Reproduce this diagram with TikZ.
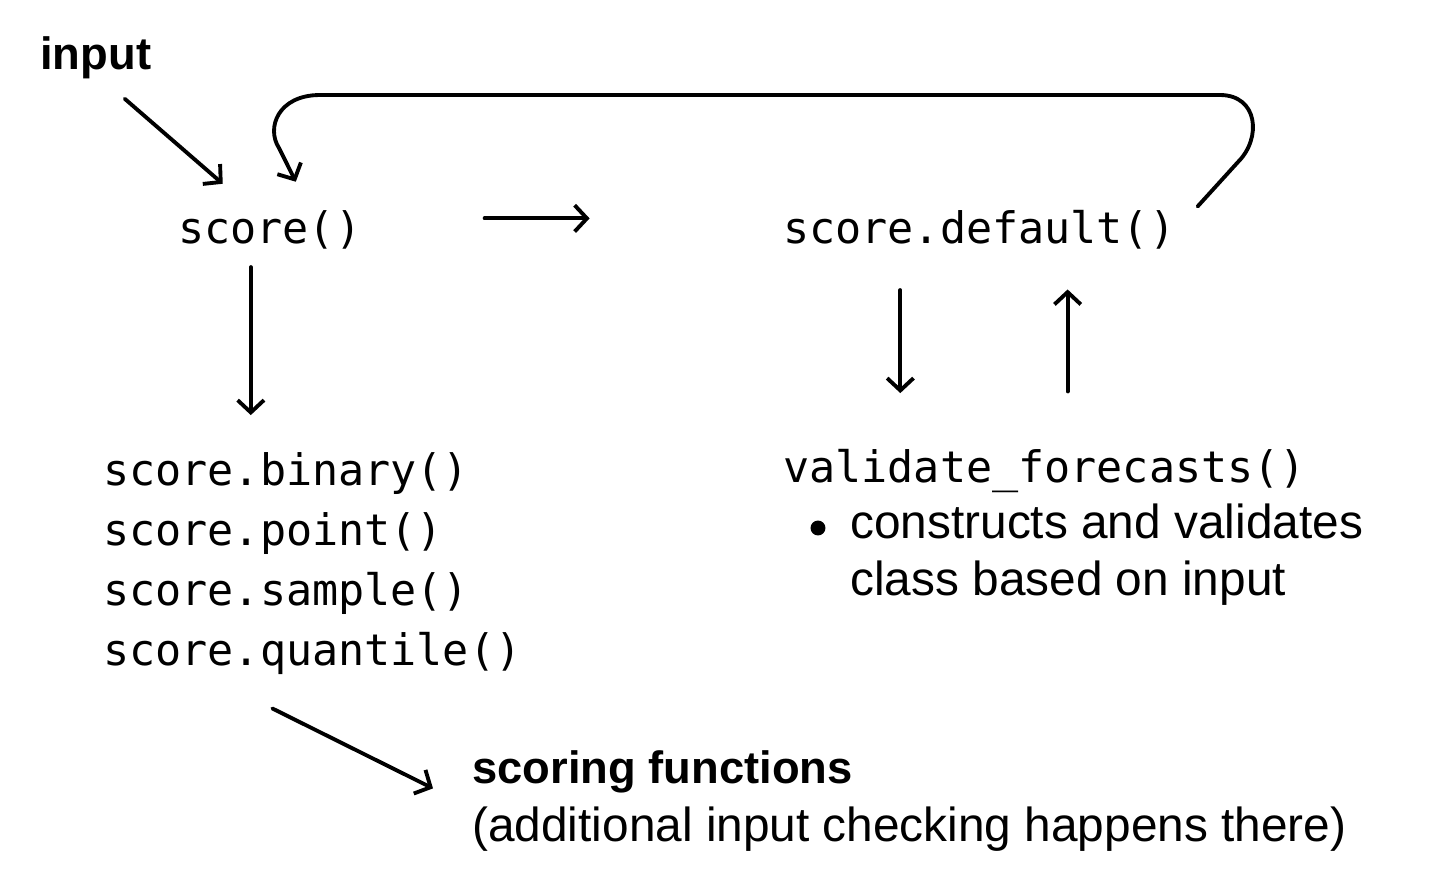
\documentclass[tikz,border=0pt]{standalone}
\usepackage{fontspec}
\setmainfont{Liberation Sans}
\setmonofont{DejaVu Sans Mono}
\usetikzlibrary{arrows.meta,calc}

\tikzset{
  fn/.style={font=\ttfamily\fontsize{24.7}{29}\selectfont, inner sep=0pt, anchor=base west},
  txt/.style={font=\fontsize{27.2}{32}\selectfont, inner sep=0pt, anchor=base west},
  bold/.style={font=\bfseries\fontsize{25.8}{31}\selectfont, inner sep=0pt, anchor=base west},
  arr/.style={line width=2.2pt, line cap=round, -{Straight Barb[length=7pt,width=15pt]}}
}

\begin{document}
\begin{tikzpicture}[x=0.02cm, y=-0.02cm]
      \useasboundingbox (0, 0) rectangle (1438, 894);
      \node [bold] (input) at (40, 69) {input};
      \node [fn] (score) at (178, 243) {score()};
      \node [fn] (default) at (783, 243) {score.default()};
      \node [fn] (validate) at (783, 482) {validate\_forecasts()};
      \node [circle, fill, inner sep=0pt, minimum size=8.5pt] (dot) at (818, 528) {};
      \node [txt] (constructs) at (850, 538) {constructs and validates};
      \node [txt] (class) at (850, 595) {class based on input};
      \foreach \n/\y in {binary/485, point/545, sample/605, quantile/665}{
        \node [fn] (\n) at (103, \y) {score.\n()};
      }
      \node [bold] (scoring) at (472, 783) {scoring functions};
      \node [txt] (additional) at (472, 841) {(additional input checking happens there)};
      \draw [arr] (input.south) ++(29, 20) -- ++(98, 85);
      \draw [arr] (score.south) ++(-19, 18) -- ++(0, 148);
      \draw [arr] (score.east) ++(123, -11) -- ++(105, 0);
      \draw [arr] (default.south) ++(-79, 41) -- ++(0, 103);
      \draw [arr] (validate.north) ++(23, -57) -- ++(0, -102);
      \draw [arr] (default.north east) ++(22, -3) -- (1238, 162) .. controls (1262, 138) and (1258, 95) .. (1220, 95) -- (320, 95) .. controls (278, 95) and (266, 128) .. (279, 148) -- ($(score.north)+(26, -28)$);
      \draw [arr] (quantile.south) ++(-40, 34) -- ($(scoring.west)+(-39, 17)$);
    \end{tikzpicture}
\end{document}
